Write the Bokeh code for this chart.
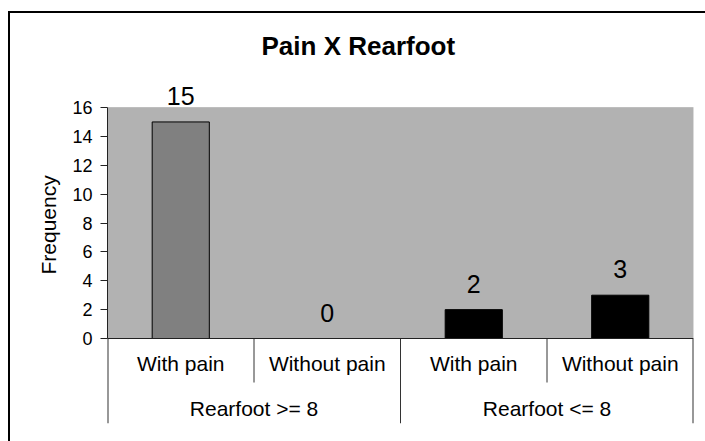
from bokeh.plotting import figure
from bokeh.models import (ColumnDataSource, FactorRange, Range1d, FixedTicker,
                          LabelSet, BoxAnnotation, Span, Title)
from bokeh.core.properties import value
from bokeh.embed import file_html
from bokeh.resources import INLINE

# ---- data ----
groups = ["Rearfoot >= 8", "Rearfoot <= 8"]
subgroups = ["With pain", "Without pain"]
values = [15, 0, 2, 3]
bar_colors = ["#808080", "#808080", "#000000", "#000000"]
y_ticks = [0, 2, 4, 6, 8, 10, 12, 14, 16]
title_text = "Pain X Rearfoot"
y_label = "Frequency"

factors = [(g, s) for g in groups for s in subgroups]

# ---- layout constants (pixels) ----
FONT = "Liberation Sans"
W, H = 705, 441
PLOT_TOP, PLOT_ZERO = 107, 338          # pixel rows of y=16 and y=0
FRAME_L, FRAME_R = 107, 693
FRAME_T, FRAME_B = 78, 423
Y_MAX = 16
PX_PER_UNIT = (PLOT_ZERO - PLOT_TOP) / Y_MAX
y_end = Y_MAX + (PLOT_TOP - FRAME_T) / PX_PER_UNIT
y_start = -(FRAME_B - PLOT_ZERO) / PX_PER_UNIT
inner_depth = 44 / PX_PER_UNIT

p = figure(width=W, height=H,
           x_range=FactorRange(*factors, factor_padding=0, group_padding=0,
                               range_padding=0),
           y_range=Range1d(y_start, y_end),
           x_axis_location=None,
           output_backend="svg", toolbar_location=None,
           min_border_left=FRAME_L, min_border_right=W - FRAME_R,
           min_border_top=FRAME_T, min_border_bottom=H - FRAME_B)

p.background_fill_color = "white"
p.border_fill_alpha = 0
p.outline_line_color = None
p.xgrid.visible = False
p.ygrid.visible = False
# outer chart border (left and top edges, running off the window)
p.styles = {
    "background-color": "white",
    "background-image": "linear-gradient(#000, #000), linear-gradient(#000, #000)",
    "background-size": "2px 100%, 100% 2px",
    "background-position": "8px 11px, 8px 11px",
    "background-repeat": "no-repeat",
}

# plot area (gray)
n = len(factors)
p.add_layout(BoxAnnotation(left=0, right=n, bottom=0, top=Y_MAX,
                           fill_color="#b2b2b2", fill_alpha=1,
                           line_color="#808080", line_width=1,
                           level="underlay"))

src = ColumnDataSource(dict(x=factors, top=values, color=bar_colors,
                            label=[str(v) for v in values]))
p.vbar(x="x", top="top", width=0.39, fill_color="color",
       line_color="black", line_width=1, source=src)

# category axis line
p.add_layout(Span(location=0, dimension="width", line_color="#222222",
                  line_width=1))

# separators in the category label area
inner_x = [i for i in range(1, n) if i % len(subgroups) != 0]
outer_x = [i for i in range(0, n + 1) if i % len(subgroups) == 0]
p.segment(x0=inner_x, x1=inner_x, y0=[0] * len(inner_x),
          y1=[-inner_depth] * len(inner_x), line_color="#333333", line_width=1)
p.segment(x0=outer_x, x1=outer_x, y0=[0] * len(outer_x),
          y1=[y_start] * len(outer_x), line_color="#333333",
          line_width=[2 if x in (0, n) else 1 for x in outer_x])

# y axis
ya = p.yaxis[0]
ya.ticker = FixedTicker(ticks=y_ticks)
ya.bounds = (0, Y_MAX)
ya.axis_line_color = "#222222"
ya.major_tick_line_color = "#222222"
ya.minor_tick_line_color = None
ya.major_tick_out = 7
ya.major_tick_in = 0
ya.major_label_standoff = 8
ya.major_label_text_font = FONT
ya.major_label_text_font_size = "18px"
ya.major_label_text_color = "black"

# y axis title, centred on the plot area rather than the whole frame
p.add_layout(Title(text=y_label, align="left", offset=149, standoff=19,
                   text_font=FONT, text_font_size="21px",
                   text_font_style="normal", text_color="black"), "left")

# value labels
p.add_layout(LabelSet(x="x", y="top", text="label", source=src, y_offset=17,
                      text_align="center", text_baseline="alphabetic",
                      text_font=value(FONT), text_font_size="25px",
                      text_color="black"))

# category labels
sub_src = ColumnDataSource(dict(x=factors, y=[0] * n, text=[f[1] for f in factors]))
p.add_layout(LabelSet(x="x", y="y", text="text", source=sub_src, y_offset=-25,
                      text_align="center", text_baseline="middle",
                      text_font=value(FONT), text_font_size="21px",
                      text_color="black"))
grp_src = ColumnDataSource(dict(x=groups, y=[0] * len(groups), text=groups))
p.add_layout(LabelSet(x="x", y="y", text="text", source=grp_src, y_offset=-70,
                      text_align="center", text_baseline="middle",
                      text_font=value(FONT), text_font_size="21px",
                      text_color="black"))

# title
p.title.text = title_text
p.title.text_font = FONT
p.title.text_font_size = "26px"
p.title.text_font_style = "bold"
p.title.text_color = "black"
p.title.align = "left"
p.title.offset = 154
p.title.standoff = 35

open("out.html", "w").write(file_html(p, INLINE))
